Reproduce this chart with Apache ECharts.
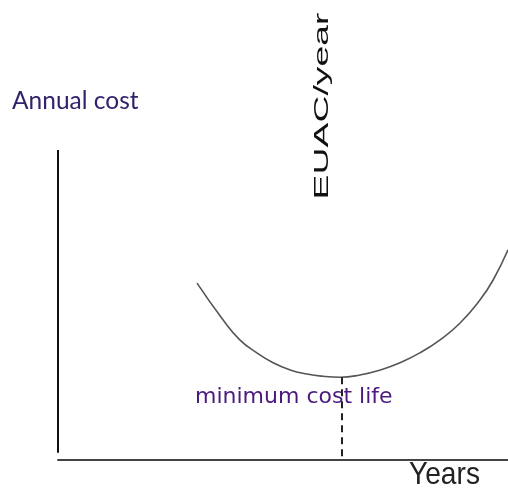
<!DOCTYPE html>
<html>
<head>
<meta charset="utf-8">
<script src="https://cdn.jsdelivr.net/npm/echarts@6/dist/echarts.min.js"></script>
<style>html,body{margin:0;padding:0;background:#fff}#c{width:508px;height:491px}</style>
</head>
<body>
<div id="c"></div>
<script>
// Curve: EUAC per year vs. years (arbitrary units)
var years = [3.09, 3.67, 4.04, 4.42, 4.78, 5.16, 5.53, 5.89, 6.27, 6.71, 7.16, 7.60, 8.04, 8.49, 8.93, 9.38, 9.67, 10.0];
var euac  = [3.93, 3.11, 2.67, 2.38, 2.16, 2.00, 1.91, 1.86, 1.84, 1.89, 2.00, 2.16, 2.38, 2.67, 3.04, 3.56, 4.00, 4.67];
var minLifeYear = 6.31;
var minLifeCost = 1.84;
var costAxisTop = 6.89;
var costAxisBottom = 0.16;

var chart = echarts.init(document.getElementById('c'), null, {renderer: 'canvas'});
var curveData = years.map(function (x, i) { return [x, euac[i]]; });

chart.setOption({
  animation: false,
  grid: {left: 58, right: 0, top: 10, bottom: 31},
  xAxis: {
    type: 'value', min: 0, max: 10,
    axisLine: {show: true, lineStyle: {color: '#444', width: 2}},
    axisTick: {show: false}, axisLabel: {show: false}, splitLine: {show: false}
  },
  yAxis: {
    type: 'value', min: 0, max: 10,
    axisLine: {show: false}, axisTick: {show: false}, axisLabel: {show: false}, splitLine: {show: false}
  },
  series: [{
    type: 'line',
    data: curveData,
    smooth: true,
    symbol: 'none',
    lineStyle: {color: '#555', width: 1.6},
    markLine: {
      silent: true,
      symbol: 'none',
      label: {show: false},
      data: [
        [{coord: [0, costAxisBottom], lineStyle: {color: '#111', width: 2, type: 'solid'}},
         {coord: [0, costAxisTop]}],
        [{coord: [minLifeYear, minLifeCost], lineStyle: {color: '#222', width: 2, type: [7, 5]}},
         {coord: [minLifeYear, 0]}]
      ]
    }
  }],
  graphic: [
    {type: 'text', x: 12, y: 89,
     style: {text: 'Annual cost', font: '24.5px Lato', fill: '#33216b'}},
    {type: 'text', x: 195, y: 386,
     style: {text: 'minimum cost life', font: '22px "DejaVu Sans"', fill: '#4a1a7e'}},
    {type: 'text', x: 409, y: 459, scaleX: 0.88,
     style: {text: 'Years', font: '32px "Liberation Sans"', fill: '#222'}},
    {type: 'text', x: 322, y: 106, rotation: Math.PI / 2, scaleX: 1.78,
     style: {text: 'EUAC/year', font: '21px "Liberation Sans"', fill: '#111', textAlign: 'center', textVerticalAlign: 'middle'}}
  ]
});
</script>
</body>
</html>
